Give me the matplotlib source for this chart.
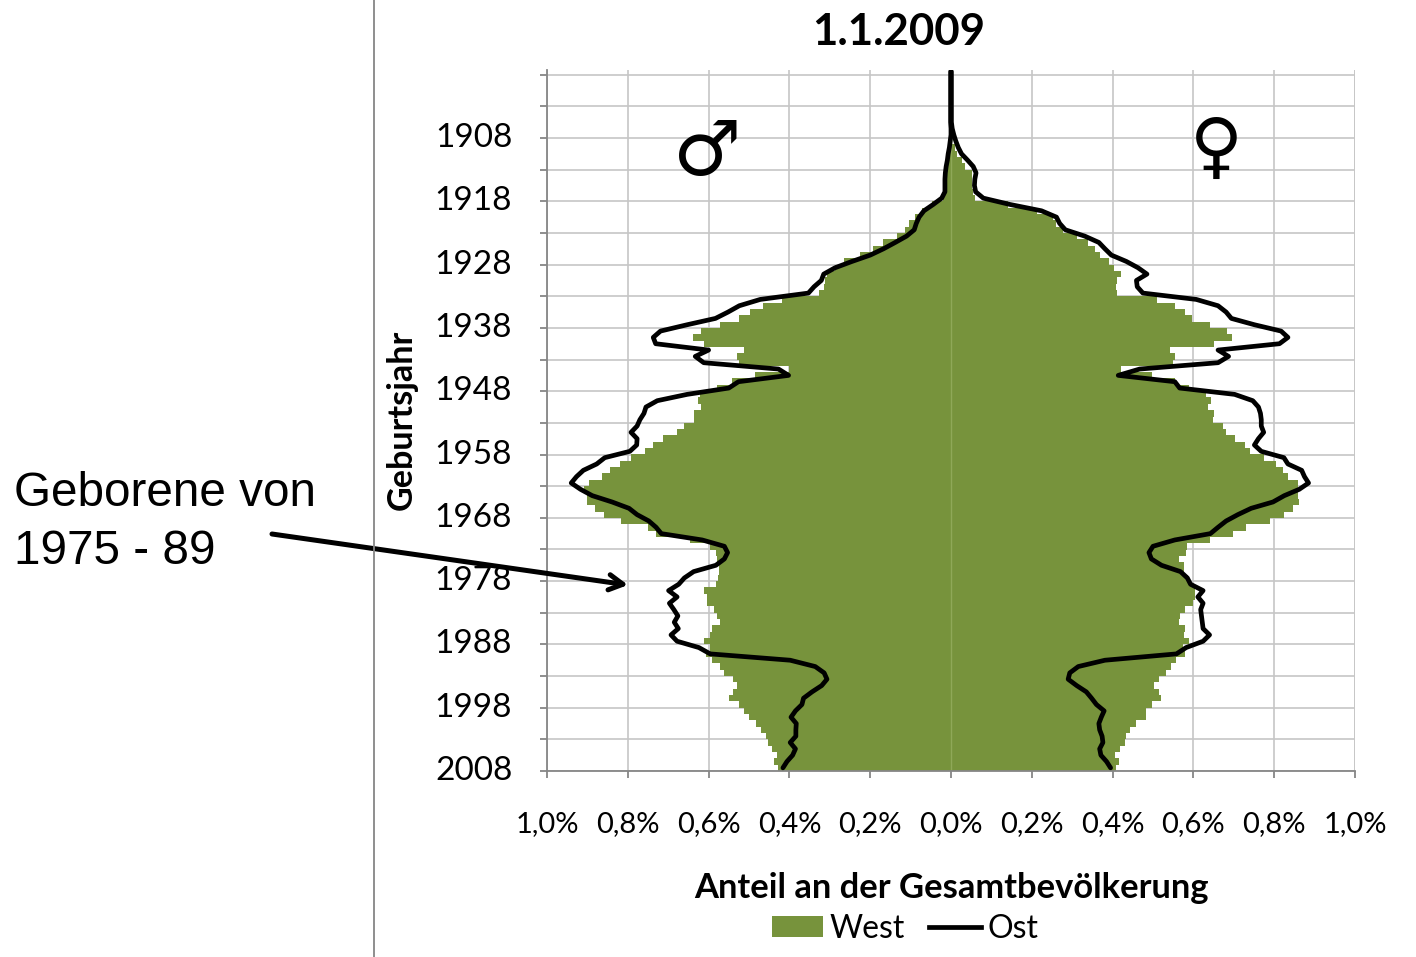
import numpy as np
import matplotlib
matplotlib.use("Agg")
import matplotlib.pyplot as plt
from matplotlib.patches import Patch
from matplotlib.lines import Line2D
from matplotlib.transforms import ScaledTranslation

bar_years = list(range(1898, 2008))
line_years = list(range(1897, 2008))

west_male = [
    0, 0, 0, 0, 0, .001, .001, .001, .001, .002,
    .002, .004, .007, .009, .012, .015, .015, .015, .015, .019,
    .048, .072, .089, .105, .114, .134, .169, .194, .225, .264,
    .287, .307, .311, .315, .327, .418, .465, .497, .524, .572,
    .619, .639, .612, .513, .530, .524, .402, .484, .542, .579,
    .622, .627, .619, .635, .635, .661, .678, .714, .737, .757,
    .793, .820, .844, .864, .895, .908, .900, .900, .880, .859,
    .816, .750, .731, .647, .596, .581, .579, .575, .575, .577,
    .581, .611, .605, .603, .587, .579, .572, .591, .596, .611,
    .596, .606, .591, .573, .563, .540, .529, .540, .549, .525,
    .513, .501, .482, .470, .457, .453, .442, .430, .437, .429]

west_female = [
    0, 0, 0, 0, 0, .001, .001, .001, .001, .001,
    .002, .010, .016, .028, .035, .053, .053, .053, .054, .059,
    .142, .214, .253, .261, .278, .313, .339, .356, .368, .390,
    .404, .422, .411, .408, .411, .510, .554, .580, .596, .640,
    .684, .695, .651, .541, .554, .549, .422, .498, .554, .589,
    .632, .644, .636, .651, .648, .673, .681, .702, .727, .739,
    .774, .805, .821, .834, .860, .858, .858, .861, .846, .825,
    .790, .731, .699, .640, .585, .582, .564, .577, .577, .586,
    .595, .603, .603, .599, .580, .568, .564, .580, .577, .589,
    .574, .580, .556, .545, .533, .514, .502, .514, .520, .498,
    .482, .482, .459, .442, .434, .430, .419, .407, .415, .409]

ost_male = [
    .001, .001, .001, .001, .001, .001, .001, .001, .001, .000, .000,
    .002, .004, .007, .009, .012, .014, .015, .015, .015, .023,
    .044, .067, .079, .086, .091, .110, .138, .167, .200, .245,
    .287, .315, .321, .339, .353, .472, .524, .552, .583, .653,
    .719, .737, .731, .600, .633, .612, .427, .402, .526, .550,
    .653, .727, .755, .760, .770, .777, .792, .777, .778, .795,
    .857, .877, .910, .927, .940, .917, .888, .839, .797, .777,
    .748, .730, .717, .616, .561, .553, .561, .582, .637, .660,
    .674, .699, .678, .697, .686, .676, .685, .675, .693, .678,
    .624, .596, .398, .336, .314, .307, .320, .344, .365, .369,
    .385, .396, .383, .384, .384, .398, .385, .392, .406, .416]

ost_female = [
    .001, .001, .001, .001, .001, .001, .001, .001, .001, .003, .007,
    .012, .018, .026, .041, .055, .062, .059, .058, .061, .080,
    .146, .224, .261, .269, .283, .331, .366, .381, .397, .434,
    .463, .485, .459, .461, .475, .607, .661, .681, .694, .751,
    .817, .834, .813, .661, .687, .661, .467, .414, .554, .566,
    .702, .747, .761, .766, .768, .768, .774, .761, .751, .768,
    .824, .834, .868, .875, .885, .862, .825, .797, .743, .710,
    .681, .661, .642, .554, .500, .490, .496, .521, .568, .585,
    .593, .624, .611, .624, .618, .620, .622, .624, .640, .624,
    .582, .558, .381, .315, .294, .290, .311, .335, .348, .360,
    .379, .372, .366, .368, .374, .376, .368, .371, .385, .395]

x_ticks = [-1.0, -0.8, -0.6, -0.4, -0.2, 0.0, 0.2, 0.4, 0.6, 0.8, 1.0]
x_tick_labels = ["1,0%", "0,8%", "0,6%", "0,4%", "0,2%", "0,0%", "0,2%", "0,4%", "0,6%", "0,8%", "1,0%"]
label_years = [1908, 1918, 1928, 1938, 1948, 1958, 1968, 1978, 1988, 1998, 2008]
grid_years = list(range(1898, 2009, 5))

W, H = 1416, 957
GREEN = "#77933C"
plt.rcParams["font.family"] = ["Lato", "DejaVu Sans"]

fig = plt.figure(figsize=(W / 100, H / 100), dpi=100)
L, R, T, B = 547, 1355, 70, 771
ax = fig.add_axes([L / W, 1 - B / H, (R - L) / W, (B - T) / H])
ax.set_xlim(-1, 1)
ax.set_ylim(2008, 2008 - (B - T) / 6.33)

ax.set_axisbelow(True)
ax.set_xticks(x_ticks)
ax.set_xticklabels(x_tick_labels)
ax.set_yticks(grid_years)
ax.set_yticklabels([str(y) if y in label_years else "" for y in grid_years])
ax.grid(True, color="#c6c6c6", lw=1.2)
ax.tick_params(axis="x", length=5, width=1.3, color="#868686", labelsize=21, pad=24)
ax.tick_params(axis="y", length=5, width=1.3, color="#868686", labelsize=24, pad=20)
shift = ScaledTranslation(0, 3 / 100, fig.dpi_scale_trans)
for lab in ax.get_yticklabels():
    lab.set_va("center_baseline")
    lab.set_transform(lab.get_transform() + shift)
for s in ("top", "right"):
    ax.spines[s].set_visible(False)
for s in ("left", "bottom"):
    ax.spines[s].set_color("#868686")
    ax.spines[s].set_linewidth(1.3)
ax.vlines(1.0, 2008, 2008 - (B - T) / 6.33, color="#c6c6c6", lw=1.2, zorder=1)

centers = np.array(bar_years) + 0.5
ax.barh(centers, -np.array(west_male), height=1.02, color=GREEN, lw=0, zorder=2)
ax.barh(centers, np.array(west_female), height=1.02, color=GREEN, lw=0, zorder=2)
ax.axvline(0, color="#8fa858", lw=1, zorder=2.5)

lc = np.array(line_years) + 0.5
ax.plot(-np.array(ost_male), lc, color="black", lw=3.4, solid_joinstyle="round", solid_capstyle="round", zorder=3)
ax.plot(np.array(ost_female), lc, color="black", lw=3.4, solid_joinstyle="round", solid_capstyle="round", zorder=3)

fig.text(899 / W, 1 - 32 / H, "1.1.2009", fontsize=31.5, fontweight="bold", ha="center", va="center")
fig.text(951 / W, 1 - 888 / H, "Anteil an der Gesamtbevölkerung", fontsize=24.8, fontweight="bold", ha="center", va="center")
fig.text(402 / W, 1 - 420 / H, "Geburtsjahr", fontsize=24.6, fontweight="bold", rotation=90, ha="center", va="center")

fig.text(707 / W, 1 - 154 / H, "\u2642", family="DejaVu Sans", fontsize=55, ha="center", va="center")
fig.text(1216 / W, 1 - 150 / H, "\u2640", family="DejaVu Sans", fontsize=52, ha="center", va="center")

fig.text(14 / W, 1 - 494 / H, "Geborene von", family="Liberation Sans", fontsize=34.3, ha="left", va="center")
fig.text(14 / W, 1 - 551 / H, "1975 - 89", family="Liberation Sans", fontsize=34.3, ha="left", va="center")

ax.annotate("", xy=(628 / W, 1 - 585 / H), xytext=(272 / W, 1 - 534 / H),
            xycoords="figure fraction", textcoords="figure fraction",
            arrowprops=dict(arrowstyle="->,head_length=1.0,head_width=0.55", lw=3.6, color="black", shrinkA=0, shrinkB=0),
            annotation_clip=False)

fig.add_artist(Line2D([374 / W, 374 / W], [0, 1], color="#868686", lw=1.3))

handles = [Patch(facecolor=GREEN, edgecolor="none", label="West"), Line2D([0], [0], color="black", lw=3.4, label="Ost")]
fig.legend(handles=handles, loc="center", bbox_to_anchor=(905 / W, 1 - 929 / H), ncol=2, frameon=False,
           fontsize=23, handlelength=1.62, handleheight=0.65, columnspacing=0.75, handletextpad=0.2, borderpad=0, borderaxespad=0)

fig.savefig("out.png", dpi=100)
